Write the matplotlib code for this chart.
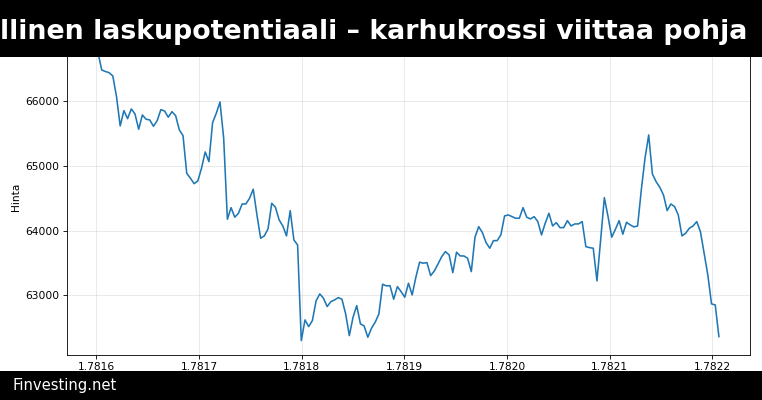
import numpy as np
import matplotlib
matplotlib.use("Agg")
import matplotlib.pyplot as plt
from matplotlib.ticker import MultipleLocator, FormatStrFormatter
from matplotlib.patches import Rectangle

# hourly closes, x axis is unix time / 1e9
start_time = 1.7816015
step_time = 0.0000036

prices = [
    66750, 66484, 66460, 66442, 66391, 66071, 65618, 65855, 65731, 65881,
    65804, 65567, 65788, 65722, 65711, 65613, 65700, 65870, 65850, 65753,
    65839, 65777, 65556, 65468, 64887, 64810, 64726, 64768, 64964, 65216,
    65066, 65669, 65814, 65989, 65428,
    64176, 64355, 64207, 64268, 64412, 64412, 64500, 64640, 64242, 63882,
    63918, 64026, 64423, 64361, 64165, 64072, 63918, 64309, 63855, 63778,
    62299, 62619, 62515, 62608, 62913, 63021, 62955, 62825, 62902, 62928,
    62964, 62939, 62712, 62376, 62660, 62840, 62557, 62526, 62351, 62491,
    62583, 62712, 63171, 63145, 63149, 62939, 63134, 63057, 62970, 63186,
    63005, 63279, 63511, 63496, 63505, 63304, 63376, 63484, 63598, 63675,
    63624, 63350, 63666, 63608, 63608, 63573, 63366, 63898, 64061, 63969,
    63814, 63727, 63845, 63845, 63933, 64227, 64242, 64216, 64191, 64191,
    64355, 64207, 64180, 64216, 64139, 63933, 64114, 64268,
    64072, 64123, 64046, 64046, 64154, 64072, 64103, 64103, 64139, 63752,
    63737, 63727, 63222, 63856, 64510, 64216, 63898, 64021, 64154, 63944,
    64129, 64088, 64057, 64072, 64629, 65119, 65479, 64876, 64757, 64670,
    64551, 64309, 64412, 64371, 64242, 63918, 63959, 64036, 64072, 64139,
    63984, 63650, 63314, 62866, 62851, 62361,
]

title_text = "llinen laskupotentiaali – karhukrossi viittaa pohja"
footer_text = "Finvesting.net"
y_label = "Hinta"

times = start_time + step_time * np.arange(len(prices))

fig = plt.figure(figsize=(10, 5.25), dpi=76.2)
ax = fig.add_axes([0.0879, 0.1125, 0.8963, 0.7915])

ax.plot(times, prices, color="#1f77b4", linewidth=1.5)
ax.set_ylabel(y_label)
ax.grid(True, alpha=0.3)
ax.xaxis.set_major_locator(MultipleLocator(0.0001))
ax.xaxis.set_major_formatter(FormatStrFormatter("%.4f"))

# black bars on top and bottom
fig.patches.append(Rectangle((0, 0.8575), 1, 0.1425, transform=fig.transFigure,
                             facecolor="black", edgecolor="none", zorder=5))
fig.patches.append(Rectangle((0, 0), 1, 0.0725, transform=fig.transFigure,
                             facecolor="black", edgecolor="none", zorder=5))

fig.text(0.0005, 0.9025, title_text, color="white", fontsize=25.3, fontweight="bold",
         ha="left", va="baseline", zorder=6)
fig.text(0.016, 0.0375, footer_text, color="white", fontsize=14,
         ha="left", va="center", zorder=6)

fig.savefig("out.png", dpi=76.2)
